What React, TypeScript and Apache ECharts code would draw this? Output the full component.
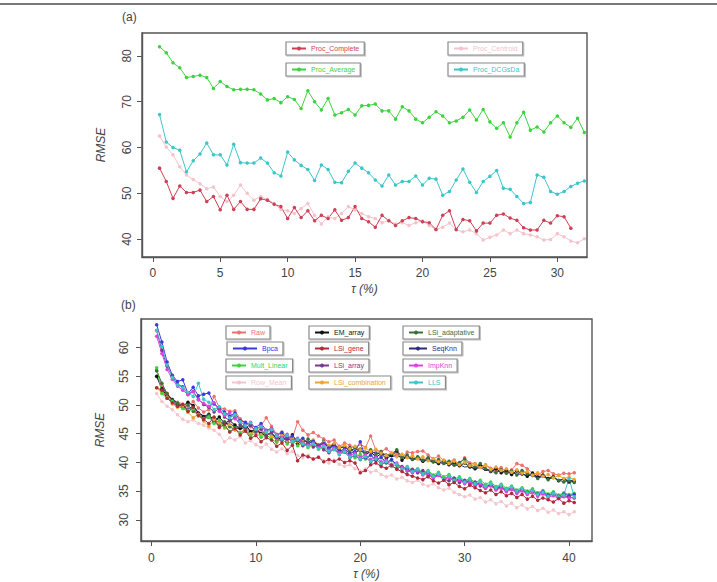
import React, { useEffect, useRef } from "react";
import * as echarts from "echarts";

// τ grid (%) for panel (a)
const tauA = [
  0.5, 1, 1.5, 2, 2.5, 3, 3.5, 4, 4.5, 5, 5.5, 6, 6.5, 7, 7.5, 8, 8.5, 9, 9.5, 10,
  10.5, 11, 11.5, 12, 12.5, 13, 13.5, 14, 14.5, 15, 15.5, 16, 16.5, 17, 17.5, 18, 18.5, 19, 19.5, 20,
  20.5, 21, 21.5, 22, 22.5, 23, 23.5, 24, 24.5, 25, 25.5, 26, 26.5, 27, 27.5, 28, 28.5, 29, 29.5, 30,
  30.5, 31, 31.5, 32,
];

// τ grid (%) for panel (b)
const tauB = [
  0.5, 1, 1.5, 2, 2.5, 3, 3.5, 4, 4.5, 5, 5.5, 6, 6.5, 7, 7.5, 8, 8.5, 9, 9.5, 10,
  10.5, 11, 11.5, 12, 12.5, 13, 13.5, 14, 14.5, 15, 15.5, 16, 16.5, 17, 17.5, 18, 18.5, 19, 19.5, 20,
  20.5, 21, 21.5, 22, 22.5, 23, 23.5, 24, 24.5, 25, 25.5, 26, 26.5, 27, 27.5, 28, 28.5, 29, 29.5, 30,
  30.5, 31, 31.5, 32, 32.5, 33, 33.5, 34, 34.5, 35, 35.5, 36, 36.5, 37, 37.5, 38, 38.5, 39, 39.5, 40,
  40.5,
];

// Panel (a): RMSE per clustering procedure
const procComplete = [
  55.5, 52.6, 48.9, 51.6, 50.2, 50.2, 50.7, 48.2, 49.3, 46.4,
  49.6, 46.5, 48.2, 46.5, 46.5, 48.8, 48.5, 47.6, 47.1, 44.5,
  46.9, 44.7, 46.2, 44.0, 45.2, 44.5, 46.4, 44.1, 44.7, 47.1,
  44.5, 43.8, 42.6, 45.2, 44.0, 43.0, 44.0, 44.7, 44.5, 43.8,
  43.6, 42.1, 45.2, 46.2, 42.1, 44.3, 44.0, 41.8, 43.5, 43.5,
  45.2, 45.5, 44.6, 44.1, 42.5, 42.0, 42.0, 44.1, 43.5, 45.1,
  44.9, 42.4,
];
const procCentroid = [
  62.5, 60.1, 58.4, 55.8, 54.0, 53.0, 52.1, 51.0, 51.4, 49.3,
  48.2, 49.6, 51.8, 50.0, 48.5, 49.3, 48.7, 47.8, 46.5, 46.2,
  45.6, 46.7, 47.8, 45.2, 43.3, 44.9, 44.5, 45.6, 47.1, 46.4,
  45.6, 44.9, 44.5, 43.6, 44.1, 43.3, 43.6, 43.0, 43.6, 44.0,
  43.0, 42.1, 42.6, 43.5, 42.0, 41.6, 42.0, 41.2, 39.8, 40.4,
  40.9, 42.0, 41.2, 42.0, 41.2, 40.9, 40.5, 39.8, 39.9, 41.2,
  40.5, 39.6, 39.2, 40.1,
];
const procAverage = [
  82.0, 80.7, 78.5, 77.4, 75.3, 75.5, 75.8, 75.3, 72.9, 74.4,
  73.3, 72.6, 72.7, 72.7, 72.6, 71.7, 70.4, 70.7, 69.8, 71.1,
  70.5, 68.5, 72.4, 70.0, 68.2, 70.7, 67.1, 67.6, 68.3, 67.1,
  69.1, 69.2, 69.5, 68.0, 68.0, 66.2, 68.9, 68.0, 66.2, 65.4,
  66.6, 67.8, 66.9, 65.4, 65.8, 66.6, 68.2, 66.0, 68.3, 65.6,
  64.2, 65.4, 62.3, 65.4, 67.7, 63.8, 64.5, 63.4, 65.4, 66.9,
  65.4, 64.4, 66.4, 63.3,
];
const procDCG = [
  67.2, 61.2, 60.0, 59.4, 54.7, 57.1, 58.6, 61.0, 58.4, 58.4,
  56.2, 60.7, 56.7, 56.6, 56.6, 57.7, 56.6, 54.5, 53.8, 59.0,
  57.3, 56.1, 55.2, 52.8, 56.2, 55.2, 52.4, 52.3, 54.8, 56.6,
  55.5, 54.5, 52.9, 51.6, 54.0, 51.8, 52.6, 52.6, 53.8, 51.8,
  53.3, 53.1, 49.6, 50.4, 52.9, 55.3, 52.4, 50.2, 52.6, 53.7,
  55.0, 51.1, 50.9, 49.3, 47.8, 48.0, 54.0, 53.5, 50.4, 49.8,
  50.4, 51.5, 52.2, 52.7,
];

// Panel (b): RMSE per imputation method
const raw = [
  56.0, 53.5, 52.0, 51.0, 50.5, 50.2, 49.8, 50.6, 49.5, 48.8,
  49.2, 51.5, 49.6, 49.3, 48.9, 49.0, 47.6, 46.9, 46.2, 45.6,
  46.4, 47.8, 46.3, 44.9, 45.3, 44.6, 44.2, 47.1, 45.6, 44.8,
  45.2, 44.6, 44.1, 43.6, 43.9, 42.8, 43.4, 43.0, 42.5, 43.2,
  42.6, 44.6, 42.1, 41.9, 42.4, 41.6, 41.4, 40.9, 41.8, 41.7,
  41.9, 42.0, 41.3, 40.6, 41.1, 40.3, 40.1, 40.4, 39.7, 40.8,
  39.9, 39.8, 39.2, 39.6, 39.0, 38.6, 39.1, 38.3, 38.7, 39.8,
  39.5, 38.9, 38.2, 37.8, 38.4, 38.6, 38.0, 37.8, 38.1, 38.0,
  38.2,
];
const bpca = [
  64.0, 61.0, 57.5, 55.2, 54.1, 54.4, 52.0, 53.1, 51.6, 51.9,
  52.1, 50.2, 49.5, 48.8, 48.1, 48.6, 47.3, 47.0, 46.5, 46.1,
  46.8, 45.6, 45.9, 44.7, 45.2, 44.1, 44.6, 43.8, 44.2, 43.3,
  43.7, 42.9, 43.3, 42.5, 42.8, 41.9, 42.4, 41.5, 41.9, 43.6,
  40.8, 41.3, 40.4, 40.9, 40.0, 40.5, 39.6, 39.2, 38.8, 38.4,
  38.7, 38.0, 38.3, 37.6, 37.9, 37.2, 37.5, 36.8, 37.1, 36.5,
  36.8, 36.1, 36.4, 35.8, 36.1, 35.5, 35.8, 35.2, 35.6, 35.0,
  35.3, 34.8, 35.1, 34.5, 34.9, 34.3, 34.6, 34.1, 34.5, 34.2,
  34.4,
];
const multLinear = [
  56.5, 52.0, 51.2, 50.6, 49.8, 49.4, 48.9, 49.3, 48.1, 47.6,
  47.9, 46.8, 47.3, 46.2, 45.4, 46.0, 45.1, 45.7, 44.6, 45.2,
  44.4, 44.9, 44.0, 43.5, 44.1, 43.2, 43.8, 42.9, 43.4, 42.6,
  43.1, 42.3, 42.7, 41.8, 42.4, 41.6, 42.0, 41.3, 40.8, 41.4,
  40.6, 41.2, 40.3, 40.8, 39.9, 40.3, 39.5, 38.9, 39.3, 38.6,
  38.9, 38.2, 38.6, 37.8, 38.3, 37.5, 37.9, 37.1, 37.5, 36.8,
  37.2, 36.5, 36.9, 36.2, 36.6, 35.8, 36.2, 35.5, 35.9, 35.2,
  35.6, 35.0, 35.4, 34.7, 35.1, 34.5, 34.9, 34.3, 34.7, 34.4,
  34.6,
];
const rowMean = [
  52.0, 50.6, 49.8, 49.2, 48.3, 47.5, 47.1, 47.4, 46.8, 46.5,
  46.0, 45.6, 44.9, 43.6, 44.3, 43.9, 44.5, 43.4, 43.8, 43.1,
  42.6, 43.2, 42.3, 41.8, 42.4, 41.5, 41.9, 41.2, 40.8, 41.3,
  40.6, 41.0, 40.3, 39.9, 40.4, 39.7, 39.3, 39.6, 38.9, 38.5,
  38.9, 38.3, 38.6, 37.9, 37.5, 37.8, 37.1, 37.4, 36.8, 36.5,
  36.9, 36.2, 35.9, 36.3, 35.6, 35.2, 35.5, 34.8, 34.4, 34.0,
  34.3, 33.6, 33.9, 33.1, 33.5, 32.8, 33.2, 32.4, 32.9, 32.1,
  32.6, 31.9, 32.3, 31.6, 32.0, 31.3, 31.7, 31.1, 31.4, 30.9,
  31.4,
];
const emArray = [
  55.0, 52.8, 51.6, 50.9, 50.0, 49.8, 50.5, 49.9, 48.6, 48.0,
  48.4, 47.2, 47.9, 46.8, 47.3, 46.5, 45.9, 46.6, 45.4, 45.8,
  45.1, 44.6, 45.3, 43.9, 44.4, 43.7, 44.8, 43.2, 43.9, 43.5,
  43.8, 42.9, 43.4, 42.6, 43.1, 42.2, 41.8, 42.5, 41.6, 42.3,
  41.3, 41.9, 40.9, 41.5, 40.7, 41.2, 42.0, 40.4, 41.0, 40.6,
  40.9, 40.2, 40.7, 40.1, 39.8, 40.3, 39.6, 40.0, 39.4, 39.9,
  39.2, 38.9, 39.5, 38.8, 38.4, 38.9, 38.2, 38.6, 37.9, 38.5,
  38.0, 37.6, 38.1, 37.4, 37.8, 37.2, 37.5, 36.8, 37.1, 36.6,
  36.7,
];
const lsiGene = [
  53.0, 52.6, 51.2, 50.4, 49.8, 50.1, 48.9, 49.6, 48.2, 47.5,
  46.8, 47.9, 46.1, 46.6, 45.3, 45.9, 44.8, 45.5, 44.2, 44.7,
  43.6, 44.3, 43.9, 42.8, 43.4, 42.1, 43.0, 40.3, 41.3, 41.0,
  40.6, 40.9, 40.1, 40.5, 40.2, 40.6, 40.0, 40.3, 39.9, 38.2,
  38.6, 39.6, 39.9, 39.3, 39.0, 39.5, 38.8, 38.4, 37.9, 37.6,
  37.3, 37.0, 37.5, 36.8, 36.4, 36.9, 36.1, 36.5, 35.8, 35.4,
  36.0, 35.6, 35.1, 34.7, 35.2, 34.4, 34.9, 34.2, 34.6, 33.9,
  34.4, 33.6, 34.1, 33.4, 33.8, 33.5, 33.1, 33.7, 32.9, 33.3,
  33.0,
];
const lsiArray = [
  63.0, 59.5, 56.8, 55.0, 53.6, 53.2, 51.9, 52.4, 51.0, 50.1,
  49.6, 48.8, 49.4, 47.9, 47.3, 47.8, 46.6, 46.1, 46.5, 45.4,
  45.8, 44.7, 45.2, 44.3, 43.8, 44.4, 43.5, 43.9, 42.9, 43.3,
  42.7, 43.0, 42.2, 41.7, 42.3, 41.4, 41.9, 40.8, 41.2, 40.5,
  40.9, 40.1, 40.6, 39.7, 40.0, 39.4, 38.9, 39.3, 38.5, 38.8,
  38.2, 38.6, 37.8, 37.4, 37.9, 37.1, 36.8, 37.3, 36.5, 36.9,
  36.2, 36.6, 35.9, 35.5, 36.0, 35.3, 35.7, 35.0, 35.4, 34.8,
  35.2, 34.6, 35.0, 34.3, 34.7, 34.1, 34.5, 33.9, 34.2, 34.0,
  33.8,
];
const lsiCombination = [
  53.0, 52.1, 51.4, 50.2, 49.6, 49.9, 48.7, 47.8, 48.4, 47.2,
  46.3, 47.5, 46.9, 46.0, 46.6, 45.8, 45.2, 45.9, 45.0, 45.6,
  44.8, 45.3, 44.5, 44.1, 44.7, 43.8, 44.3, 43.6, 44.0, 43.4,
  43.9, 43.1, 43.5, 42.9, 43.3, 42.6, 43.0, 42.4, 42.8, 42.2,
  42.5, 41.9, 42.3, 41.6, 41.2, 41.7, 41.0, 41.4, 40.8, 41.2,
  40.6, 41.0, 40.3, 40.7, 40.1, 40.4, 39.8, 40.2, 39.6, 40.0,
  39.4, 39.7, 39.1, 39.5, 38.8, 39.2, 38.6, 38.9, 38.3, 38.7,
  38.1, 38.4, 37.8, 38.2, 37.6, 37.9, 37.3, 37.7, 37.2, 37.4,
  37.0,
];
const lsiAdaptative = [
  56.0, 53.8, 52.0, 50.8, 50.3, 49.5, 50.0, 48.9, 48.3, 47.7,
  48.2, 47.0, 46.4, 47.1, 46.2, 45.7, 46.3, 45.5, 44.9, 45.6,
  44.9, 45.4, 44.6, 44.0, 44.8, 43.6, 44.4, 43.9, 43.4, 44.1,
  43.5, 43.0, 43.7, 42.8, 43.2, 42.4, 42.9, 41.8, 42.6, 42.0,
  41.6, 42.2, 41.4, 41.9, 41.1, 41.5, 42.2, 40.9, 41.3, 40.5,
  41.0, 40.4, 40.8, 40.1, 40.5, 39.8, 40.2, 39.5, 40.0, 40.6,
  39.6, 39.2, 39.8, 38.9, 38.5, 38.2, 38.7, 38.1, 38.5, 37.8,
  38.6, 38.0, 37.7, 37.2, 37.6, 37.0, 37.4, 36.9, 36.6, 36.8,
  36.5,
];
const seqKnn = [
  55.0, 53.2, 51.8, 51.0, 50.4, 49.8, 49.3, 49.8, 48.7, 48.1,
  47.6, 48.0, 47.2, 46.7, 46.9, 46.1, 45.8, 46.2, 45.3, 45.7,
  45.0, 44.8, 45.1, 44.2, 44.5, 43.9, 44.2, 43.7, 43.9, 43.4,
  43.6, 43.1, 43.3, 42.8, 42.9, 42.5, 42.7, 42.1, 42.4, 41.9,
  42.0, 41.6, 41.8, 41.3, 41.5, 41.0, 41.2, 40.8, 40.9, 40.5,
  40.6, 40.2, 40.4, 40.0, 40.1, 39.7, 39.9, 39.4, 39.6, 39.2,
  39.3, 38.9, 39.1, 38.6, 38.8, 38.4, 38.5, 38.1, 38.3, 37.9,
  38.0, 37.7, 37.8, 37.4, 37.6, 37.2, 37.3, 36.9, 37.1, 36.8,
  36.9,
];
const impKnn = [
  62.0, 59.0, 56.2, 54.5, 53.3, 52.6, 51.8, 52.3, 50.9, 50.3,
  49.8, 50.4, 48.9, 48.2, 48.7, 47.6, 47.1, 46.5, 47.0, 45.9,
  46.3, 45.5, 45.9, 44.8, 44.3, 44.9, 43.8, 44.2, 43.5, 43.0,
  43.4, 42.6, 43.0, 42.1, 42.5, 41.7, 42.1, 41.2, 41.6, 40.9,
  41.3, 40.5, 40.9, 40.1, 40.4, 39.6, 39.9, 39.1, 38.6, 38.2,
  38.5, 37.8, 38.1, 37.3, 37.7, 37.0, 37.4, 36.6, 36.9, 36.3,
  36.6, 35.9, 36.3, 35.6, 35.9, 35.2, 35.5, 34.9, 35.3, 34.6,
  35.0, 34.4, 34.7, 34.1, 34.5, 33.9, 34.2, 33.7, 34.0, 33.8,
  33.9,
];
const lls = [
  63.0, 60.2, 57.0, 54.8, 53.5, 53.0, 52.2, 51.5, 53.8, 51.0,
  50.5, 49.2, 49.7, 48.5, 47.8, 48.3, 47.1, 46.4, 46.9, 45.8,
  46.2, 45.3, 45.7, 44.6, 44.1, 44.7, 43.6, 44.0, 43.2, 42.8,
  43.2, 42.4, 42.8, 41.9, 42.2, 41.4, 41.8, 40.9, 41.3, 40.6,
  41.0, 40.2, 40.6, 39.8, 40.1, 39.3, 39.7, 38.8, 39.2, 38.4,
  38.8, 38.0, 38.4, 37.6, 38.0, 37.2, 37.6, 36.9, 37.3, 36.6,
  37.0, 36.3, 36.6, 35.9, 36.3, 35.6, 36.0, 35.3, 35.7, 35.0,
  35.4, 34.7, 35.1, 34.4, 34.8, 34.1, 34.6, 34.0, 34.3, 37.2,
  34.0,
];

const ticksA_x = [0, 5, 10, 15, 20, 25, 30];
const ticksA_y = [40, 50, 60, 70, 80];
const ticksB_x = [0, 10, 20, 30, 40];
const ticksB_y = [30, 35, 40, 45, 50, 55, 60];

const FONT = "Liberation Sans";

type Spec = {
  name: string;
  values: number[];
  color: string;
  symbol?: string;
  legend: { left: number; top: number; iconW?: number };
};

const panelA: Spec[] = [
  { name: "Proc_Centroid", values: procCentroid, color: "#f4c3cb", legend: { left: 448, top: 42 } },
  { name: "Proc_Complete", values: procComplete, color: "#cf3f55", legend: { left: 286, top: 42 } },
  { name: "Proc_Average", values: procAverage, color: "#3fd23f", legend: { left: 286, top: 63 } },
  { name: "Proc_DCGsDa", values: procDCG, color: "#3cc6c9", legend: { left: 448, top: 63 } },
];

const panelB: Spec[] = [
  { name: "Row_Mean", values: rowMean, color: "#f4c6cc", legend: { left: 226, top: 376 } },
  { name: "Raw", values: raw, color: "#ee7070", legend: { left: 226, top: 326 } },
  { name: "EM_array", values: emArray, color: "#111111", legend: { left: 309, top: 326 } },
  { name: "LSi_adaptative", values: lsiAdaptative, color: "#3d6e3d", legend: { left: 403, top: 326 } },
  { name: "LSi_combination", values: lsiCombination, color: "#eaa632", legend: { left: 309, top: 376 } },
  { name: "SeqKnn", values: seqKnn, color: "#2c2c78", symbol: "none", legend: { left: 403, top: 342, iconW: 18 } },
  { name: "Mult_Linear", values: multLinear, color: "#3fd33f", legend: { left: 226, top: 359 } },
  { name: "Bpca", values: bpca, color: "#3a3adc", legend: { left: 227, top: 342, iconW: 24 } },
  { name: "LSi_array", values: lsiArray, color: "#7a3a8c", legend: { left: 309, top: 359 } },
  { name: "ImpKnn", values: impKnn, color: "#e040e0", legend: { left: 403, top: 359 } },
  { name: "LLS", values: lls, color: "#3cc6c6", legend: { left: 403, top: 376 } },
  { name: "LSi_gene", values: lsiGene, color: "#b02a3a", legend: { left: 309, top: 342 } },
];

function makeSeries(specs: Spec[], tau: number[], idx: number) {
  return specs.map((s) => ({
    name: s.name,
    type: "line",
    xAxisIndex: idx,
    yAxisIndex: idx,
    data: s.values.map((v, i) => [tau[i], v]),
    symbol: s.symbol ?? "circle",
    symbolSize: 3.5,
    showSymbol: s.symbol !== "none",
    lineStyle: { color: s.color, width: 1 },
    itemStyle: { color: s.color },
    emphasis: { disabled: true },
  }));
}

function makeLegends(specs: Spec[]) {
  return specs.map((s) => ({
    data: [s.name],
    left: s.legend.left,
    top: s.legend.top,
    orient: "horizontal",
    selectedMode: false,
    itemWidth: s.legend.iconW ?? 14,
    itemHeight: 5,
    itemGap: 4,
    padding: [3, 5, 3, 5],
    borderColor: "#8a8a8a",
    borderWidth: 1.2,
    backgroundColor: "#ffffff",
    shadowColor: "rgba(0,0,0,0.25)",
    shadowOffsetX: 1,
    shadowOffsetY: 1,
    shadowBlur: 1,
    textStyle: { color: s.color, fontSize: 7, fontFamily: FONT },
  }));
}

function xAxis(idx: number, min: number, max: number, ticks: number[], margin: number, gap: number) {
  return {
    type: "value",
    gridIndex: idx,
    min,
    max,
    name: "τ (%)",
    nameLocation: "middle",
    nameGap: gap,
    nameTextStyle: { fontFamily: FONT, fontSize: 12, fontStyle: "italic", color: "#444" },
    axisLine: { show: true, onZero: false, lineStyle: { color: "#555", width: 1.4 } },
    splitLine: { show: false },
    axisTick: { show: true, inside: false, length: 5, customValues: ticks, lineStyle: { color: "#555" } },
    axisLabel: { customValues: ticks, margin, fontFamily: FONT, fontSize: 12, color: "#444" },
  };
}

// y tick labels are drawn as rotated texts (reading bottom-to-top) placed
// at the pixel positions the y scale reports for each tick value
function yAxis(idx: number, min: number, max: number, ticks: number[]) {
  return {
    type: "value",
    gridIndex: idx,
    min,
    max,
    name: "RMSE",
    nameLocation: "middle",
    nameGap: 35,
    nameTextStyle: { fontFamily: FONT, fontSize: 12, fontStyle: "italic", color: "#444" },
    axisLine: { show: true, onZero: false, lineStyle: { color: "#555", width: 1.4 } },
    splitLine: { show: false },
    axisTick: { show: true, inside: false, length: 5, customValues: ticks, lineStyle: { color: "#555" } },
    axisLabel: { show: false, customValues: ticks },
  };
}

const GRID_A = { left: 142, top: 33, width: 445, height: 224 };
const GRID_B = { left: 141, top: 319, width: 451, height: 222 };

export default function App() {
  const ref = useRef<HTMLDivElement>(null);

  useEffect(() => {
    if (!ref.current) return;
    const chart = echarts.init(ref.current, null, { renderer: "svg" });
    const baseGraphic: any[] = [
      { type: "line", shape: { x1: 0, y1: 4, x2: 717, y2: 4 }, style: { stroke: "#777", lineWidth: 2 } },
      { type: "text", left: 122, top: 11, style: { text: "(a)", font: `12px "${FONT}"`, fill: "#444" } },
      { type: "text", left: 121, top: 299, style: { text: "(b)", font: `12px "${FONT}"`, fill: "#444" } },
    ];
    chart.setOption({
      animation: false,
      backgroundColor: "#ffffff",
      textStyle: { fontFamily: FONT },
      grid: [
        { ...GRID_A, show: true, borderColor: "#555", borderWidth: 1.4, backgroundColor: "transparent" },
        { ...GRID_B, show: true, borderColor: "#555", borderWidth: 1.4, backgroundColor: "transparent" },
      ],
      xAxis: [xAxis(0, -0.8, 32.2, ticksA_x, 10, 26), xAxis(1, -1, 42.2, ticksB_x, 11, 27)],
      yAxis: [yAxis(0, 36.1, 85, ticksA_y), yAxis(1, 26.3, 65, ticksB_y)],
      legend: [...makeLegends(panelA), ...makeLegends(panelB)],
      series: [...makeSeries(panelA, tauA, 0), ...makeSeries(panelB, tauB, 1)],
      graphic: baseGraphic,
    });

    const yLabels = (axisIndex: number, ticks: number[], cx: number) =>
      ticks.map((v) => {
        const py = chart.convertToPixel({ yAxisIndex: axisIndex }, v) as number;
        return {
          type: "text",
          x: cx,
          y: py,
          rotation: Math.PI / 2,
          style: {
            text: String(v),
            font: `12px "${FONT}"`,
            fill: "#444",
            align: "center",
            verticalAlign: "middle",
          },
        };
      });

    chart.setOption({
      graphic: [
        ...baseGraphic,
        ...yLabels(0, ticksA_y, GRID_A.left - 15),
        ...yLabels(1, ticksB_y, GRID_B.left - 17),
      ],
    });
    return () => chart.dispose();
  }, []);

  return (
    <div
      ref={ref}
      style={{ position: "absolute", left: 0, top: 0, width: 717, height: 582 }}
    />
  );
}
